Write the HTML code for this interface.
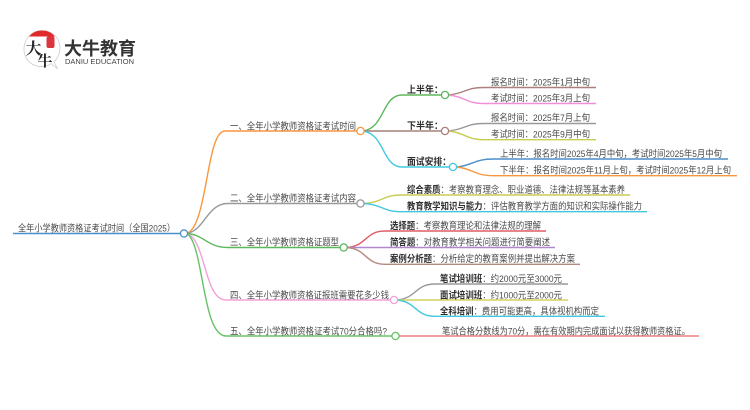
<!DOCTYPE html>
<html lang="zh"><head><meta charset="utf-8"><title>全年小学教师资格证考试时间</title>
<style>
html,body{margin:0;padding:0;background:#fff}
svg{display:block}
text{font-family:"Liberation Sans","Noto Sans CJK SC",sans-serif;font-size:9.6px;fill:#4a4a4a}
.b{font-weight:700;fill:#2e2e2e}
path{fill:none;stroke-width:1.4}
circle{fill:#fff;stroke-width:1.3}
</style></head><body>
<svg width="750" height="410" viewBox="0 0 750 410" xmlns="http://www.w3.org/2000/svg">
<!-- logo -->
<path d="M51 63.500C47 67 41 67 37 66C28 64 23.500 56 24 48C24.500 38 32 30.500 42 30.500C52 30.500 60 38 60 48C60 53 58 58 54 62L57.500 69Z" stroke="#ccc" style="stroke-width:.8"/>
<path d="M29 36.500C33 32 37 30.500 42 30.500C47 30.500 51 32 55 36.500Z" style="fill:#e02a2a;stroke:none"/>
<rect x="46.500" y="36.500" width="8" height="11.500" rx="2" fill="#d9363e"/>
<text x="25.500" y="54" style="font-size:16px;font-weight:700;font-family:'Noto Serif CJK SC',serif;fill:#222">大</text>
<text x="37.500" y="66" style="font-size:15px;font-weight:700;font-family:'Noto Serif CJK SC',serif;fill:#222">牛</text>
<text x="64" y="55" textLength="72" lengthAdjust="spacingAndGlyphs" style="font-size:18px;font-weight:700;fill:#333">大牛教育</text>
<text x="65" y="64" textLength="69" lengthAdjust="spacingAndGlyphs" style="font-size:7px;fill:#444">DANIU EDUCATION</text>

<!-- root -->
<path d="M13 233.500H181" stroke="#4a8fc9" style="stroke-width:1.600"/>
<path d="M187 233.500C208 225 206 131 225 131H357" stroke="#f9963c"/>
<path d="M187 233.500C205 230 207 203.500 228 203.500H357" stroke="#999"/>
<path d="M187 233.500C205 235 207 247.500 228 247.500H340" stroke="#5cb85c"/>
<path d="M187 233.500C206 240 204 300 226 300H391" stroke="#f2a0d8"/>
<path d="M187 233.500C204 245 202 336 226 336H392" stroke="#66c266"/>

<!-- branch 1 sub -->
<path d="M363 131C385 128 382 95 402 95H441" stroke="#5cb85c"/>
<path d="M363 131H441" stroke="#a9807a"/>
<path d="M363 131C385 134 382 167 402 167H449" stroke="#40c8e0"/>
<path d="M449 95C466 93 466 87.500 484 87.500H596" stroke="#a9807a"/>
<path d="M449 95C466 97 466 103.500 484 103.500H596" stroke="#f08fd8"/>
<path d="M449 131C466 129 466 123.500 484 123.500H596" stroke="#999"/>
<path d="M449 131C466 133 466 139.700 484 139.700H596" stroke="#c8cc50"/>
<path d="M457 167C474 165 474 159 494 159H728" stroke="#4a8fc9"/>
<path d="M457 167C474 169 474 175.700 494 175.700H737" stroke="#f9963c"/>

<!-- branch 2 sub -->
<path d="M364 203.500C384 202 382 195 402 195H630" stroke="#c8cc50"/>
<path d="M364 203.500C384 205 382 211.700 402 211.700H647" stroke="#40c8e0"/>

<!-- branch 3 sub -->
<path d="M347 247.500C367 246 365 231 385 231H546" stroke="#dd5f66"/>
<path d="M347 247.500H555" stroke="#b088d0"/>
<path d="M347 247.500C367 249 365 264.300 385 264.300H580" stroke="#b58a80"/>

<!-- branch 4 sub -->
<path d="M397 300C417 298 415 284 435 284H568" stroke="#999"/>
<path d="M397 300H568" stroke="#d3d45e"/>
<path d="M397 300C417 302 415 316.300 435 316.300H605" stroke="#40c8e0"/>

<!-- branch 5 sub -->
<path d="M399 336H699" stroke="#ef7f80" style="stroke-width:1.600"/>

<!-- nodes -->
<circle cx="184" cy="233.500" r="3.600" stroke="#4a8fc9"/>
<circle cx="360.500" cy="131" r="3.600" stroke="#f9963c"/>
<circle cx="360.500" cy="203.500" r="3.600" stroke="#999"/>
<circle cx="343.700" cy="247.500" r="3.600" stroke="#5cb85c"/>
<circle cx="394" cy="300" r="3.600" stroke="#f2a0d8"/>
<circle cx="395.500" cy="336" r="3.600" stroke="#66c266"/>
<circle cx="445" cy="95" r="3.600" stroke="#5cb85c"/>
<circle cx="445" cy="131" r="3.600" stroke="#a9807a"/>
<circle cx="453" cy="167" r="3.600" stroke="#40c8e0"/>

<!-- labels -->
<g transform="translate(0,0.5)">
<text x="18" y="231" textLength="157" lengthAdjust="spacingAndGlyphs">全年小学教师资格证考试时间（全国2025）</text>
<text x="230" y="129" textLength="126" lengthAdjust="spacingAndGlyphs">一、全年小学教师资格证考试时间</text>
<text x="230" y="201" textLength="126" lengthAdjust="spacingAndGlyphs">二、全年小学教师资格证考试内容</text>
<text x="230" y="245" textLength="109" lengthAdjust="spacingAndGlyphs">三、全年小学教师资格证题型</text>
<text x="230" y="298" textLength="159" lengthAdjust="spacingAndGlyphs">四、全年小学教师资格证报班需要花多少钱</text>
<text x="230" y="334" textLength="157" lengthAdjust="spacingAndGlyphs">五、全年小学教师资格证考试70分合格吗?</text>

<text class="b" x="407" y="92.500" textLength="36" lengthAdjust="spacingAndGlyphs">上半年：</text>
<text class="b" x="407" y="128.500" textLength="36" lengthAdjust="spacingAndGlyphs">下半年：</text>
<text class="b" x="407" y="164.500" textLength="44" lengthAdjust="spacingAndGlyphs">面试安排：</text>

<text x="491" y="85" textLength="99" lengthAdjust="spacingAndGlyphs">报名时间：2025年1月中旬</text>
<text x="491" y="101" textLength="99" lengthAdjust="spacingAndGlyphs">考试时间：2025年3月上旬</text>
<text x="491" y="120.500" textLength="99" lengthAdjust="spacingAndGlyphs">报名时间：2025年7月上旬</text>
<text x="491" y="137" textLength="99" lengthAdjust="spacingAndGlyphs">考试时间：2025年9月中旬</text>
<text x="500" y="156.500" textLength="222" lengthAdjust="spacingAndGlyphs">上半年：报名时间2025年4月中旬，考试时间2025年5月中旬</text>
<text x="500" y="173" textLength="231" lengthAdjust="spacingAndGlyphs">下半年：报名时间2025年11月上旬，考试时间2025年12月上旬</text>

<text x="407" y="192.500" textLength="218" lengthAdjust="spacingAndGlyphs"><tspan class="b">综合素质</tspan>：考察教育理念、职业道德、法律法规等基本素养</text>
<text x="407" y="209" textLength="235" lengthAdjust="spacingAndGlyphs"><tspan class="b">教育教学知识与能力</tspan>：评估教育教学方面的知识和实际操作能力</text>
<text x="390" y="228.500" textLength="151" lengthAdjust="spacingAndGlyphs"><tspan class="b">选择题</tspan>：考察教育理论和法律法规的理解</text>
<text x="390" y="245" textLength="160" lengthAdjust="spacingAndGlyphs"><tspan class="b">简答题</tspan>：对教育教学相关问题进行简要阐述</text>
<text x="390" y="261.500" textLength="185" lengthAdjust="spacingAndGlyphs"><tspan class="b">案例分析题</tspan>：分析给定的教育案例并提出解决方案</text>

<text x="440" y="281.500" textLength="122" lengthAdjust="spacingAndGlyphs"><tspan class="b">笔试培训班</tspan>：约2000元至3000元</text>
<text x="440" y="298" textLength="122" lengthAdjust="spacingAndGlyphs"><tspan class="b">面试培训班</tspan>：约1000元至2000元</text>
<text x="440" y="314" textLength="159" lengthAdjust="spacingAndGlyphs"><tspan class="b">全科培训</tspan>：费用可能更高，具体视机构而定</text>
<text x="442" y="334" textLength="248" lengthAdjust="spacingAndGlyphs">笔试合格分数线为70分，需在有效期内完成面试以获得教师资格证。</text>
</g>
</svg>
</body></html>
